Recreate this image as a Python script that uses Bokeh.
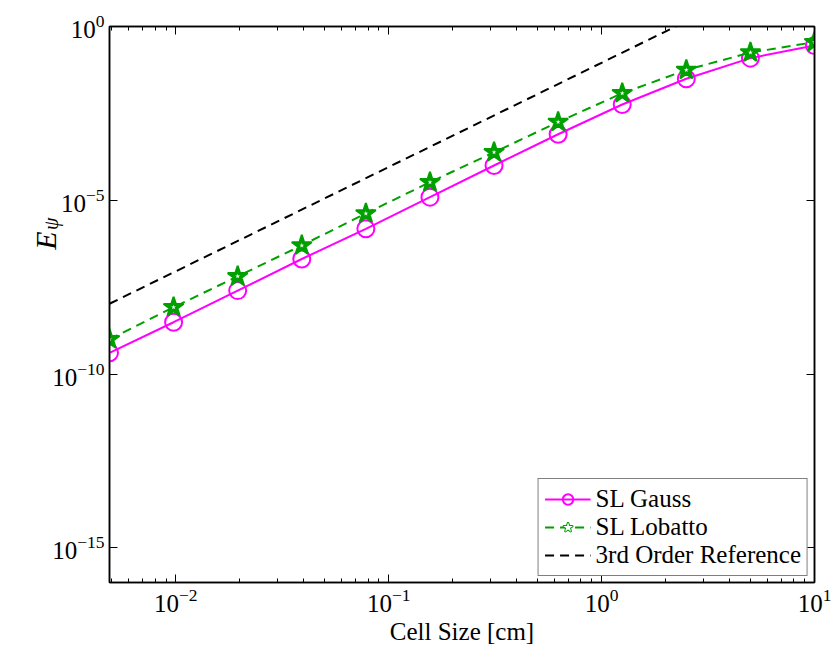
import math
from bokeh.plotting import figure
from bokeh.models import (FixedTicker, LogAxis, Legend, LegendItem, Label, Range1d,
                          ColumnDataSource)
from bokeh.embed import file_html
from bokeh.resources import INLINE

# ---------------- data ----------------
cell_size = [0.0048828125, 0.009765625, 0.01953125, 0.0390625, 0.078125, 0.15625,
             0.3125, 0.625, 1.25, 2.5, 5.0, 10.0]
sl_gauss = [4.07e-10, 3.09e-9, 2.51e-8, 2.04e-7, 1.51e-6, 1.23e-5,
            1.00e-4, 7.94e-4, 5.69e-3, 3.13e-2, 0.123, 0.284]
sl_lobatto = [1.00e-9, 8.32e-9, 6.46e-8, 5.01e-7, 4.17e-6, 3.31e-5,
              2.40e-4, 1.78e-3, 1.20e-2, 5.62e-2, 0.178, 0.355]
ref_x = [0.0048828125, 10.0]
ref_y = [1.05e-8, 90.4]

x_major = [0.01, 0.1, 1.0, 10.0]
y_major = [1e-15, 1e-10, 1e-5, 1.0]
x_minor = [m * d for d in [0.001, 0.01, 0.1, 1.0] for m in range(2, 10)]

FONT = "Liberation Serif"
MAGENTA = "#ff00ff"
GREEN = "#00a000"

p = figure(width=833, height=649, x_axis_type="log", y_axis_type="log",
           x_range=Range1d(cell_size[0], cell_size[-1]), y_range=Range1d(1e-16, 1.0),
           output_backend="svg", toolbar_location=None,
           min_border_left=109, min_border_right=19, min_border_top=26, min_border_bottom=67)
p.xgrid.visible = False
p.ygrid.visible = False
p.outline_line_color = "black"
p.outline_line_width = 1.5
p.background_fill_color = "white"
p.border_fill_color = "white"

src_g = ColumnDataSource(dict(x=cell_size, y=sl_gauss))
src_l = ColumnDataSource(dict(x=cell_size, y=sl_lobatto))
src_r = ColumnDataSource(dict(x=ref_x, y=ref_y))

r_ref = p.line("x", "y", source=src_r, line_color="black", line_width=2, line_dash="9 6")
r_gl = p.line("x", "y", source=src_g, line_color=MAGENTA, line_width=2)
r_gm = p.scatter("x", "y", source=src_g, marker="circle", size=17, fill_color=None,
                 line_color=MAGENTA, line_width=2)
r_ll = p.line("x", "y", source=src_l, line_color=GREEN, line_width=2, line_dash="9 6")
r_lm = p.scatter("x", "y", source=src_l, marker="star", size=21, fill_color=GREEN,
                 line_color=GREEN, line_width=2)
r_lc = p.scatter("x", "y", source=src_l, marker="star", size=5, fill_color="white",
                 line_color=None)

def style_axis(ax, labels=True):
    ax.axis_line_color = "black"
    ax.axis_line_width = 1.5
    ax.major_tick_in = 8
    ax.major_tick_out = 0
    ax.minor_tick_in = 4
    ax.minor_tick_out = 0
    ax.major_tick_line_width = 1
    ax.minor_tick_line_width = 1
    ax.major_label_text_font = FONT
    ax.major_label_text_color = "black"
    ax.major_label_standoff = 6
    if labels:
        ax.major_label_text_font_size = "25px"
    else:
        ax.major_label_text_font_size = "2px"
        ax.major_label_text_alpha = 0.0
        ax.major_label_standoff = 0

xa = p.xaxis[0]
xa.ticker = FixedTicker(ticks=x_major, minor_ticks=x_minor)
style_axis(xa)
xa.major_label_standoff = 6
xa.axis_label = "Cell Size [cm]"
xa.axis_label_text_font = FONT
xa.axis_label_text_font_style = "normal"
xa.axis_label_text_font_size = "25px"
xa.axis_label_text_color = "black"
xa.axis_label_standoff = 3

ya = p.yaxis[0]
ya.ticker = FixedTicker(ticks=y_major, minor_ticks=[])
style_axis(ya)
ya.major_label_standoff = 5
ya.minor_tick_in = 0

top = LogAxis(ticker=FixedTicker(ticks=x_major, minor_ticks=x_minor))
style_axis(top, labels=False)
p.add_layout(top, "above")
right = LogAxis(ticker=FixedTicker(ticks=y_major, minor_ticks=[]))
style_axis(right, labels=False)
right.minor_tick_in = 0
p.add_layout(right, "right")

# y-axis label E_psi (rotated), placed in data units left of the frame;
# hosted in side panels so that it is not clipped to the frame
e_pos_x = [0.00244, 0.00259]
e_pos_y = [6.9e-7, 2.1e-6]
p.add_layout(Label(x=e_pos_x[0], y=e_pos_y[0], text="E",
                   angle=math.pi / 2, text_font=FONT, text_font_style="italic",
                   text_font_size="30px", text_color="black",
                   text_align="center", text_baseline="middle"), "left")
p.add_layout(Label(x=e_pos_x[1], y=e_pos_y[1], text="ψ",
                   angle=math.pi / 2, text_font=FONT, text_font_style="italic",
                   text_font_size="20px", text_color="black",
                   text_align="center", text_baseline="middle"), "above")

legend = Legend(items=[
    LegendItem(label="SL Gauss", renderers=[r_gl, r_gm]),
    LegendItem(label="SL Lobatto", renderers=[r_ll, r_lm, r_lc]),
    LegendItem(label="3rd Order Reference", renderers=[r_ref]),
], location="bottom_right")
legend.label_text_font = FONT
legend.label_text_font_size = "25px"
legend.label_text_color = "black"
legend.border_line_color = "black"
legend.border_line_width = 1.5
legend.background_fill_color = "white"
legend.background_fill_alpha = 1
legend.glyph_width = 46
legend.glyph_height = 26
legend.label_height = 26
legend.label_standoff = 5
legend.spacing = 0
legend.padding = 6
legend.margin = 6
p.add_layout(legend)

open("out.html", "w").write(file_html(p, INLINE))
